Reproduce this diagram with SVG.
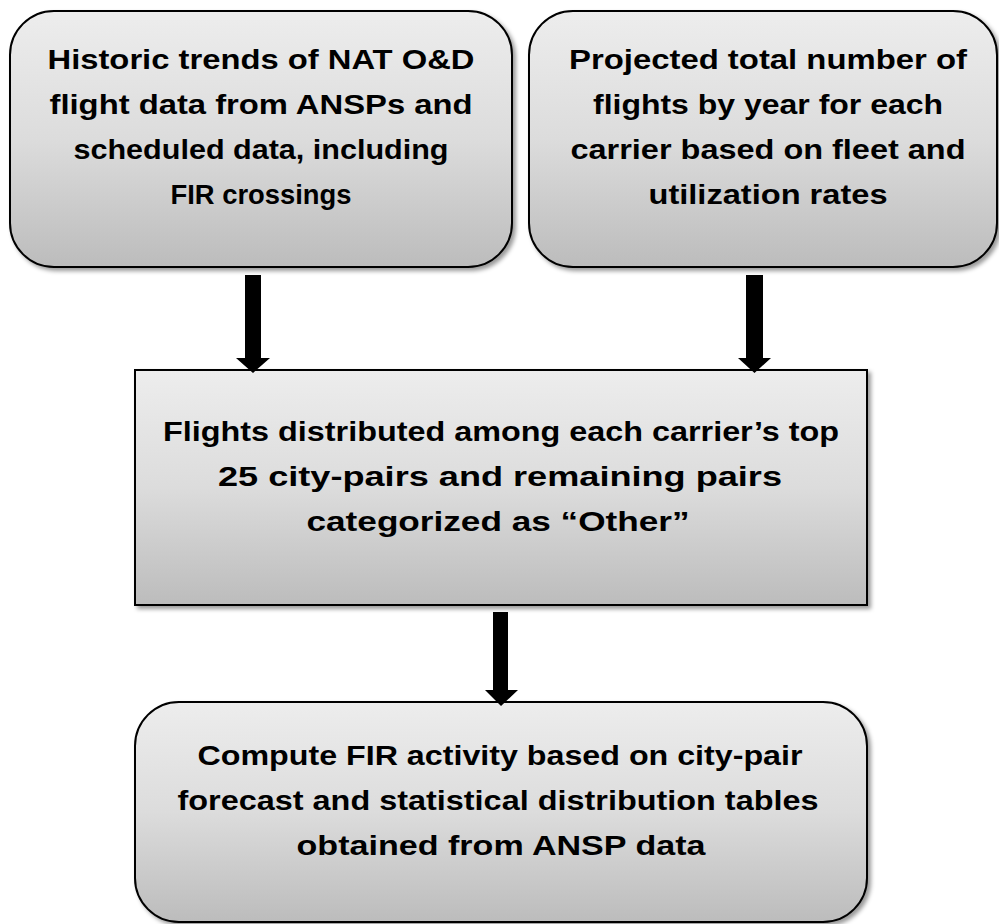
<svg xmlns="http://www.w3.org/2000/svg" width="999" height="924" viewBox="0 0 999 924">
<style>
.box{fill:url(#g);stroke:#000;stroke-width:2;filter:url(#sh)}
.t{font-family:"Liberation Sans",Arial,sans-serif;font-weight:bold;font-size:27px;fill:#000;text-anchor:middle}
.arrow{fill:#000}
</style>
<defs>
<linearGradient id="g" x1="0" y1="0" x2="0" y2="1">
<stop offset="0" stop-color="#ededed"/>
<stop offset="0.5" stop-color="#dcdcdc"/>
<stop offset="1" stop-color="#bcbcbc"/>
</linearGradient>
<filter id="sh" x="-5%" y="-5%" width="115%" height="115%">
<feDropShadow dx="3" dy="3" stdDeviation="2" flood-color="#000" flood-opacity="0.4"/>
</filter>
</defs>
<rect width="999" height="924" fill="#fff"/>
<g id="n1">
<rect class="box" x="10" y="11" width="502" height="256" rx="44" ry="44"/>
<text class="t" x="261" y="69" textLength="427" lengthAdjust="spacingAndGlyphs">Historic trends of NAT O&amp;D</text>
<text class="t" x="261" y="114" textLength="423" lengthAdjust="spacingAndGlyphs">flight data from ANSPs and</text>
<text class="t" x="261" y="159" textLength="375" lengthAdjust="spacingAndGlyphs">scheduled data, including</text>
<text class="t" x="261" y="204" textLength="181" lengthAdjust="spacingAndGlyphs">FIR crossings</text>
</g>
<g id="n2">
<rect class="box" x="529" y="11" width="468" height="256" rx="44" ry="44"/>
<text class="t" x="768" y="69" textLength="398" lengthAdjust="spacingAndGlyphs">Projected total number of</text>
<text class="t" x="768" y="114" textLength="350" lengthAdjust="spacingAndGlyphs">flights by year for each</text>
<text class="t" x="768" y="159" textLength="395" lengthAdjust="spacingAndGlyphs">carrier based on fleet and</text>
<text class="t" x="768" y="204" textLength="239" lengthAdjust="spacingAndGlyphs">utilization rates</text>
</g>
<g id="n3">
<rect class="box" x="135" y="370" width="732" height="235"/>
<text class="t" x="501" y="441" textLength="676" lengthAdjust="spacingAndGlyphs">Flights distributed among each carrier’s top</text>
<text class="t" x="500" y="486" textLength="564" lengthAdjust="spacingAndGlyphs">25 city-pairs and remaining pairs</text>
<text class="t" x="498" y="531" textLength="383" lengthAdjust="spacingAndGlyphs">categorized as “Other”</text>
</g>
<g id="n4">
<rect class="box" x="135" y="702" width="732" height="220" rx="44" ry="44"/>
<text class="t" x="500" y="765" textLength="605" lengthAdjust="spacingAndGlyphs">Compute FIR activity based on city-pair</text>
<text class="t" x="498" y="810" textLength="641" lengthAdjust="spacingAndGlyphs">forecast and statistical distribution tables</text>
<text class="t" x="501" y="855" textLength="409" lengthAdjust="spacingAndGlyphs">obtained from ANSP data</text>
</g>
<g id="connectors">
<polygon class="arrow" points="245,275 261,275 261,358 270,358 253,373 236,358 245,358"/>
<polygon class="arrow" points="746,275 763,275 763,358 771,358 754.5,373 738,358 746,358"/>
<polygon class="arrow" points="493,612 508,612 508,690 518,690 501,706 485,690 493,690"/>
</g>
</svg>
